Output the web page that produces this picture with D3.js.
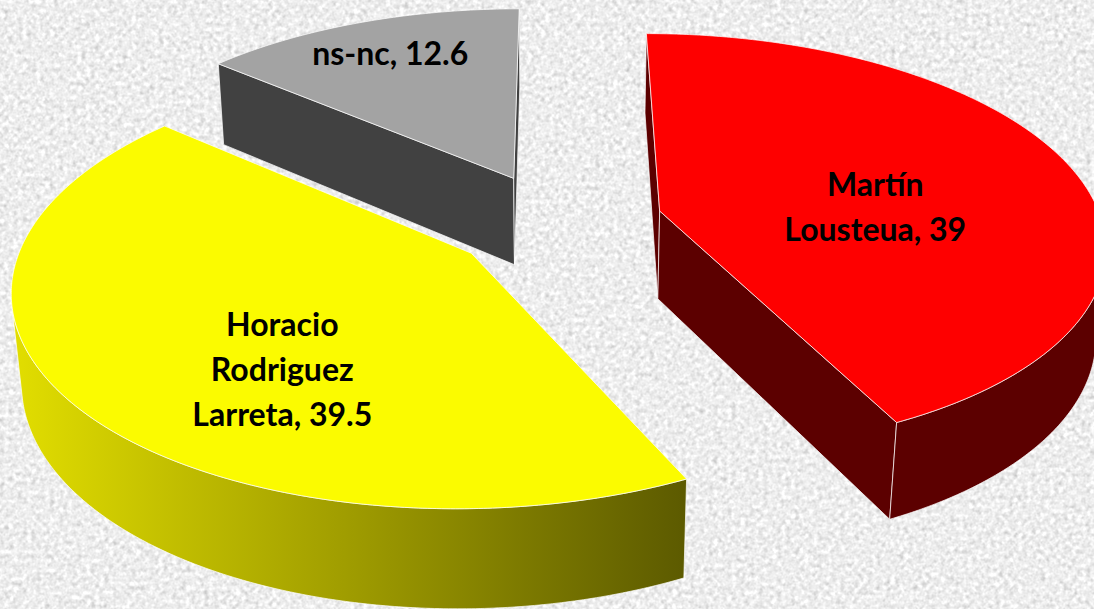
<!DOCTYPE html>
<html><head><meta charset="utf-8">
<script src="https://cdn.jsdelivr.net/npm/d3@7"></script>
<style>html,body{margin:0;padding:0;background:#eaeaea;overflow:hidden}</style>
</head><body><svg id="chart" width="1094" height="609"></svg>
<script>
// ---- data ----
const categories = ["Martín Lousteua", "Horacio Rodriguez Larreta", "ns-nc"];
const values = [39, 39.5, 12.6];
const labelLines = [["Martín", "Lousteua, 39"], ["Horacio", "Rodriguez", "Larreta, 39.5"], ["ns-nc, 12.6"]];

// ---- style ----
const topColors = ["#fe0000", "#fbfb00", "#a3a3a3"];
const sideColors = ["#5c0000", "url(#yellowSide)", "#414141"];
const labelPlace = [{k: 0.52, y: -0.22}, {k: 0.5, y: -0.5}, {k: 0.78, y: 0}];

const Wd = 1094, Ht = 609;
const view = {cx: 557, cy: 222, F: 2610, D: 5.9, elev: 27.9 * Math.PI / 180};
const explode = 0.24, thick = 0.23;
const s = Math.sin(view.elev), c = Math.cos(view.elev);
const cam = [0, -view.D * c, view.D * s];

function project(X, Wz, Y) {
  const depth = view.D + Wz * c - Y * s;
  return [view.cx + view.F * X / depth, view.cy - view.F * (Wz * s + Y * c) / depth];
}

const svg = d3.select("#chart");
const defs = svg.append("defs");
const filt = defs.append("filter").attr("id", "granite")
  .attr("filterUnits", "userSpaceOnUse").attr("x", 0).attr("y", 0)
  .attr("width", Wd).attr("height", Ht)
  .attr("color-interpolation-filters", "sRGB");
filt.append("feTurbulence").attr("type", "fractalNoise").attr("baseFrequency", 0.22)
  .attr("numOctaves", 2).attr("seed", 7).attr("color-interpolation-filters", "sRGB");
filt.append("feColorMatrix").attr("type", "matrix").attr("color-interpolation-filters", "sRGB")
  .attr("values", "0.33 0.33 0.33 0 0  0.33 0.33 0.33 0 0  0.33 0.33 0.33 0 0  0 0 0 0 1");
const ct = filt.append("feComponentTransfer").attr("color-interpolation-filters", "sRGB");
["feFuncR", "feFuncG", "feFuncB"].forEach(f => ct.append(f).attr("type", "linear").attr("slope", 0.55).attr("intercept", 0.66));

svg.append("rect").attr("width", Wd).attr("height", Ht).attr("fill", "#eaeaea");
svg.append("rect").attr("width", Wd).attr("height", Ht).attr("filter", "url(#granite)");

const arcs = d3.pie().sort(null).value(d => d)(values);
const line = d3.line();
const path = pts => line(pts) + "Z";

function visible(n, p) {
  return n[0] * (cam[0] - p[0]) + n[1] * (cam[1] - p[1]) + n[2] * (cam[2] - p[2]) > 0;
}

const slices = arcs.map((a, i) => {
  const m = (a.startAngle + a.endAngle) / 2;
  const ox = explode * Math.sin(m), ow = explode * Math.cos(m);
  return {a, i, m, ox, ow, depth: ow * c};
});
slices.sort((p, q) => q.depth - p.depth);

const g = svg.append("g");
const strokeStyle = sel => sel.attr("stroke", "#ffffff").attr("stroke-opacity", 0.7)
  .attr("stroke-width", 1).attr("stroke-linejoin", "round");

slices.forEach(sl => {
  const {a, i, ox, ow} = sl;
  const a0 = a.startAngle, a1 = a.endAngle;
  const P3 = (th, r, y) => [ox + r * Math.sin(th), ow + r * Math.cos(th), y];
  const P = (th, r, y) => { const q = P3(th, r, y); return project(q[0], q[1], q[2]); };
  const sg = g.append("g");
  const side = sideColors[i];

  // radial walls
  const n0 = [-Math.cos(a0), Math.sin(a0), 0];
  if (visible(n0, P3(a0, 0.5, -thick / 2))) {
    sg.append("path").attr("d", path([P(a0, 0, 0), P(a0, 1, 0), P(a0, 1, -thick), P(a0, 0, -thick)]))
      .attr("fill", side).call(strokeStyle);
  }
  const n1 = [Math.cos(a1), -Math.sin(a1), 0];
  if (visible(n1, P3(a1, 0.5, -thick / 2))) {
    sg.append("path").attr("d", path([P(a1, 1, 0), P(a1, 0, 0), P(a1, 0, -thick), P(a1, 1, -thick)]))
      .attr("fill", side).call(strokeStyle);
  }

  // outer curved wall
  const nSeg = Math.ceil((a1 - a0) / (Math.PI / 360));
  const th = d3.range(nSeg + 1).map(j => a0 + (a1 - a0) * j / nSeg);
  const vis = d3.range(nSeg).map(j => {
    const t = (th[j] + th[j + 1]) / 2;
    return visible([Math.sin(t), Math.cos(t), 0], P3(t, 1, -thick / 2));
  });
  let j = 0;
  while (j < nSeg) {
    if (!vis[j]) { j++; continue; }
    let k = j;
    while (k + 1 < nSeg && vis[k + 1]) k++;
    const topPts = d3.range(j, k + 2).map(q => P(th[q], 1, 0));
    const botPts = d3.range(k + 1, j - 1, -1).map(q => P(th[q], 1, -thick));
    const pts = topPts.concat(botPts);
    if (i === 1) {
      const ext = d3.extent(pts, p => p[0]);
      const grad = defs.append("linearGradient").attr("id", "yellowSide")
        .attr("gradientUnits", "userSpaceOnUse")
        .attr("x1", ext[0]).attr("x2", ext[1]).attr("y1", 0).attr("y2", 0);
      grad.append("stop").attr("offset", 0).attr("stop-color", "#e2de00");
      grad.append("stop").attr("offset", 1).attr("stop-color", "#5c5a00");
    }
    sg.append("path").attr("d", path(pts)).attr("fill", side).call(strokeStyle);
    j = k + 1;
  }

  // top face
  const topFace = [P(a0, 0, 0)].concat(th.map(t => P(t, 1, 0)));
  sg.append("path").attr("d", path(topFace)).attr("fill", topColors[i]).call(strokeStyle);
});

// labels
const fontSize = 32, lh = 45;
arcs.forEach((a, i) => {
  const m = (a.startAngle + a.endAngle) / 2;
  const ox = explode * Math.sin(m), ow = explode * Math.cos(m);
  const lp = labelPlace[i];
  const p = project(ox + lp.k * Math.sin(m), ow + lp.k * Math.cos(m), lp.y * thick);
  const lines = labelLines[i];
  const t = svg.append("text").attr("text-anchor", "middle")
    .attr("font-family", "Lato, 'Open Sans', sans-serif").attr("font-weight", "bold")
    .attr("font-size", fontSize).attr("fill", "#000");
  lines.forEach((ln, li) => {
    t.append("tspan").attr("x", p[0]).attr("y", p[1] - (lines.length - 1) * lh / 2 + li * lh)
      .attr("dy", "0.35em").text(ln);
  });
});
</script></body></html>
